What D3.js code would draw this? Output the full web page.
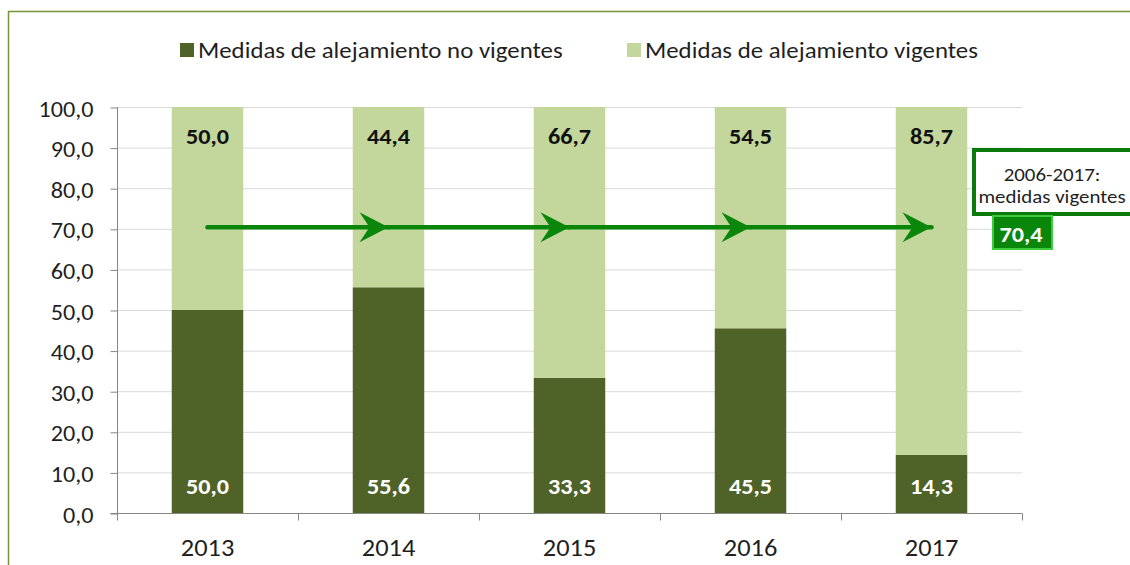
<!DOCTYPE html>
<html>
<head>
<meta charset="utf-8">
<script src="https://cdn.jsdelivr.net/npm/d3@7"></script>
<style>
  html, body { margin: 0; padding: 0; background: #ffffff; }
  svg { display: block; font-family: Carlito, "Open Sans", "Noto Sans", sans-serif; }
</style>
</head>
<body>
<svg id="chart" width="1130" height="565"></svg>
<script>
// Orders of protection (medidas de alejamiento), share per year (%)
const years = ["2013", "2014", "2015", "2016", "2017"];
const noVigentes = [50.0, 55.6, 33.3, 45.5, 14.3];
const vigentes = [50.0, 44.4, 66.7, 54.5, 85.7];
const seriesNames = ["Medidas de alejamiento no vigentes", "Medidas de alejamiento vigentes"];
const periodLabel = ["2006-2017:", "medidas vigentes"];
const periodValue = 70.4;
const yTicks = [0, 10, 20, 30, 40, 50, 60, 70, 80, 90, 100];

const colors = ["#4f6228", "#c3d69b"];
const ink = "#1f1f1f";
const stretch = 1.1; // slightly wide lettering
const fmt = v => d3.format(".1f")(v).replace(".", ",");

const svg = d3.select("#chart");
const W = 1130, H = 565;
const m = { left: 117, right: 1130 - 1022, top: 107, bottom: 565 - 513 };

// text drawn at (x, y) with a horizontal stretch
function label(parent, x, y, str, opts = {}) {
  return parent.append("text")
    .attr("transform", `translate(${x},${y}) scale(${stretch},1)`)
    .attr("text-anchor", opts.anchor || "start")
    .attr("font-size", opts.size || 20)
    .attr("font-weight", opts.weight || "normal")
    .attr("fill", opts.fill || ink)
    .text(str);
}

// outer chart frame
svg.append("rect")
  .attr("x", 8.5).attr("y", 11.5)
  .attr("width", W).attr("height", H)
  .attr("fill", "none").attr("stroke", "#77933c").attr("stroke-width", 1.5);

const x = d3.scaleBand().domain(years).range([m.left, W - m.right]).paddingInner(0).paddingOuter(0);
const y = d3.scaleLinear().domain([0, 100]).range([H - m.bottom, m.top]);
const barW = x.bandwidth() * 0.395;
const cx = yr => x(yr) + x.bandwidth() / 2;

// gridlines
svg.append("g").selectAll("line").data(yTicks.filter(t => t > 0)).join("line")
  .attr("x1", m.left).attr("x2", W - m.right)
  .attr("y1", d => y(d) + 0.5).attr("y2", d => y(d) + 0.5)
  .attr("stroke", "#d9d9d9").attr("stroke-width", 1);

// stacked bars
const stackData = years.map((yr, i) => ({ year: yr, a: noVigentes[i], b: vigentes[i] }));
const stacked = d3.stack().keys(["a", "b"])(stackData);

svg.append("g").selectAll("g").data(stacked).join("g")
  .attr("fill", (d, i) => colors[i])
  .selectAll("rect").data(d => d).join("rect")
  .attr("x", d => x(d.data.year) + (x.bandwidth() - barW) / 2)
  .attr("width", barW)
  .attr("y", d => y(d[1]))
  .attr("height", d => y(d[0]) - y(d[1]));

// y axis
const yAxis = d3.axisLeft(y).tickValues(yTicks).tickFormat(fmt).tickSize(7);
const gy = svg.append("g").attr("transform", `translate(${m.left + 0.5},0)`).call(yAxis);
gy.select(".domain").attr("stroke", "#868686").attr("d", `M-7,${y(0) + 0.5}H0V${y(100)}`);
gy.selectAll(".tick line").attr("stroke", "#868686").attr("transform", "translate(0,0.5)");
gy.selectAll(".tick text")
  .attr("x", null).attr("dy", null)
  .attr("transform", `translate(-24,9) scale(${stretch},1)`)
  .attr("font-size", 22).attr("fill", ink)
  .attr("font-family", "Carlito, 'Open Sans', sans-serif");

// x axis
const xAxis = d3.axisBottom(x).tickSize(0).tickFormat("");
const gx = svg.append("g").attr("transform", `translate(0,${y(0) + 0.5})`).call(xAxis);
gx.select(".domain").attr("stroke", "#868686").attr("d", `M${m.left},0H${W - m.right}`);
// category separator ticks
const seps = years.map(yr => x(yr)).concat([W - m.right]);
gx.append("g").selectAll("line").data(seps).join("line")
  .attr("x1", d => d + 0.5).attr("x2", d => d + 0.5)
  .attr("y1", 0).attr("y2", 7).attr("stroke", "#868686");
const xl = svg.append("g");
years.forEach(yr => label(xl, cx(yr), y(0) + 43, yr, { anchor: "middle", size: 24 }));

// value labels
const vl = svg.append("g");
stackData.forEach(d => {
  label(vl, cx(d.year), y(d.a + d.b) + 37, fmt(d.b), { anchor: "middle", size: 22, weight: "bold", fill: "#111111" });
  label(vl, cx(d.year), y(0) - 19, fmt(d.a), { anchor: "middle", size: 22, weight: "bold", fill: "#ffffff" });
});

// trend arrows at the 2006-2017 level
const defs = svg.append("defs");
defs.append("marker").attr("id", "head")
  .attr("viewBox", "-30 -16 32 32").attr("refX", 0).attr("refY", 0)
  .attr("markerWidth", 32).attr("markerHeight", 32)
  .attr("markerUnits", "userSpaceOnUse").attr("orient", "auto")
  .append("path").attr("d", "M0,0L-29,-15L-19,0L-29,15Z").attr("fill", "#0a860a");

const ay = y(periodValue);
svg.append("g").selectAll("line").data(d3.pairs(years)).join("line")
  .attr("x1", d => cx(d[0]))
  .attr("x2", d => cx(d[1]))
  .attr("y1", ay).attr("y2", ay)
  .attr("stroke", "#0a860a").attr("stroke-width", 4.5).attr("stroke-linecap", "round")
  .attr("marker-end", "url(#head)");

// period callout
const callout = svg.append("g");
callout.append("rect").attr("x", 974).attr("y", 150).attr("width", 158).attr("height", 64)
  .attr("fill", "#ffffff").attr("stroke", "#0a7a0a").attr("stroke-width", 4);
periodLabel.forEach((t, i) => label(callout, 1052, 181 + i * 22, t, { anchor: "middle", size: 19 }));
callout.append("rect").attr("x", 993).attr("y", 216).attr("width", 59).attr("height", 33)
  .attr("fill", "#0a860a").attr("stroke", "#3ccc3c").attr("stroke-width", 2);
label(callout, 1021, 242, fmt(periodValue), { anchor: "middle", size: 22, weight: "bold", fill: "#ffffff" });

// legend
const legend = svg.append("g");
const legX = [180, 627];
seriesNames.forEach((name, i) => {
  legend.append("rect").attr("x", legX[i]).attr("y", 43).attr("width", 14).attr("height", 14).attr("fill", colors[i]);
  label(legend, legX[i] + 18, 58, name, { size: 22.6 });
});
</script>
</body>
</html>
